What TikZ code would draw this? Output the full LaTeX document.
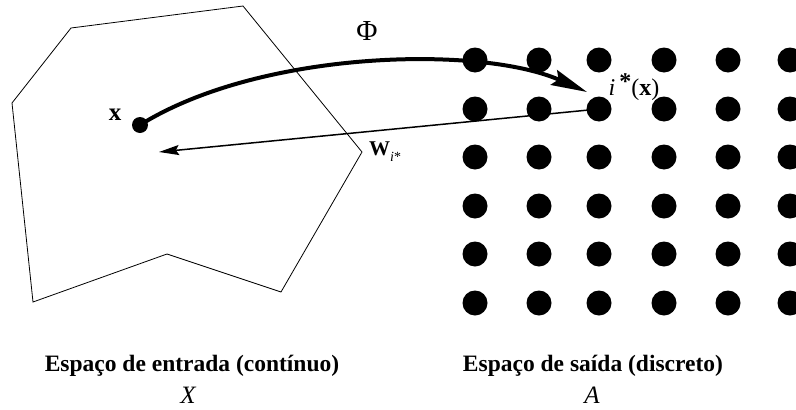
\documentclass[tikz,border=0pt]{standalone}
\usepackage{fontspec}
\setmainfont{Liberation Serif}
\usetikzlibrary{arrows,arrows.meta}

\begin{document}
\begin{tikzpicture}[>=stealth, x=1pt, y=-1pt]
	\tikzstyle{unit} = [circle, fill=black, minimum size=25pt, inner sep=0pt]
	\tikzstyle{sample} = [circle, fill=black, minimum size=16pt, inner sep=0pt]
	\tikzstyle{caption} = [anchor=base, inner sep=0pt, font=\fontsize{23.5}{26}\selectfont\bfseries]
	\tikzstyle{setname} = [anchor=base, inner sep=0pt, font=\fontsize{25}{26}\selectfont\itshape]
	\useasboundingbox (0,0) rectangle (796,410);
	% input space
	\draw[line width=0.8pt] (71,28) -- (243,6) -- (362,152) -- (281,292)
	  -- (167,254) -- (33,302) -- (12,103) -- cycle;
	\node[sample] (xpt) at (140,125) {};
	\node[anchor=base, inner sep=0pt, font=\fontsize{25}{26}\selectfont\bfseries] (xlab) at (115,120) {x};
	% output lattice
	\foreach \c/\px in {1/475,2/539,3/599,4/664,5/728,6/790}
	  \foreach \r/\py in {1/60,2/109,3/157,4/206,5/254,6/303}
	    \node[unit] (d-\c-\r) at (\px,\py) {};
	\coordinate (phiend) at (587,92);
	\coordinate (wend) at (159,152);
	\path
	  node[anchor=base, inner sep=0pt] (philab) at (367,40) {\fontsize{29}{30}\selectfont Φ}
	  node[anchor=base, inner sep=0pt] (ilab) at (634,95) {\fontsize{24}{26}\selectfont\textit{i}\,\raisebox{6pt}{\textbf{*}}(\textbf{x})}
	  node[anchor=base west, inner sep=0pt] (wlab) at (369,155) {\fontsize{21}{24}\selectfont\textbf{W}\raisebox{-6pt}{\fontsize{14}{14}\selectfont\textit{i}*}};
	\draw[line width=4pt, -{Stealth[length=36pt, width=16pt, inset=5pt]}] (xpt.center) .. controls (260,50) and (480,45) .. (phiend);
	\draw[line width=1.5pt, -{Stealth[length=20pt, width=10pt, inset=3pt]}] (d-3-2.center) -- (wend);
	% captions
	\node[caption] (inlab) at (192,371) {Espaço de entrada (contínuo)};
	\node[setname] (inset) at (188,403) {X};
	\node[caption] (outlab) at (593,371) {Espaço de saída (discreto)};
	\node[setname] (outset) at (592,403) {A};
\end{tikzpicture}
\end{document}
